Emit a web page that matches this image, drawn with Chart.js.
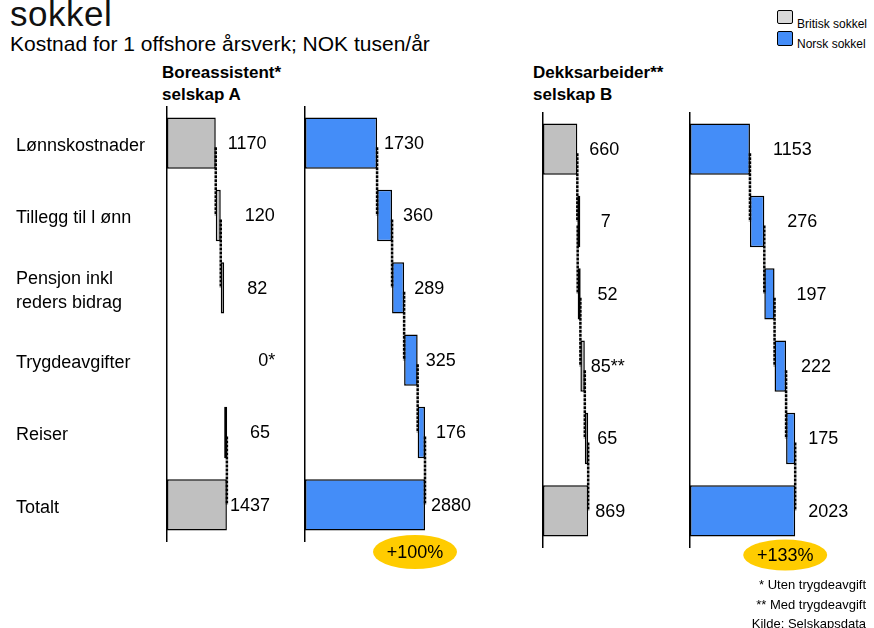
<!DOCTYPE html>
<html lang="no">
<head>
<meta charset="utf-8">
<title>Kostnad for 1 offshore årsverk</title>
<script src="https://cdn.jsdelivr.net/npm/chart.js@4.4.1/dist/chart.umd.min.js"></script>
<style>
  html, body { margin: 0; padding: 0; background: #fff; }
  body {
    width: 874px; height: 628px; position: relative; overflow: hidden;
    font-family: "Liberation Sans", Arial, sans-serif; color: #000;
  }
  .t { position: absolute; white-space: nowrap; }
  .box { position: absolute; border: 1.5px solid #000; border-radius: 2px; }
  canvas { position: absolute; }
</style>
</head>
<body>

<div class="t" style="left:10px; top:-4.5px; font-size:35px; line-height:36px; letter-spacing:0.5px; color:#111;">sokkel</div>
<div class="t" style="left:10px; top:33px; font-size:21px; line-height:21px;">Kostnad for 1 offshore årsverk; NOK tusen/år</div>

<div class="t" style="left:162px; top:62px; font-size:17px; line-height:22px; font-weight:bold;">Boreassistent*<br>selskap A</div>
<div class="t" style="left:533px; top:62px; font-size:17px; line-height:22px; font-weight:bold;">Dekksarbeider**<br>selskap B</div>

<div class="box" style="left:777px; top:10px; width:14px; height:12px; background:#d9d9d9;"></div>
<div class="t" style="left:797px; top:18px; font-size:12px; line-height:12px;">Britisk sokkel</div>
<div class="box" style="left:777px; top:31px; width:14px; height:13px; background:#448df8;"></div>
<div class="t" style="left:797px; top:38px; font-size:12px; line-height:12px;">Norsk sokkel</div>

<canvas id="britiskA" width="292" height="466" style="left:16px; top:91px;"></canvas>
<canvas id="norskA" width="205" height="500" style="left:295px; top:91px;"></canvas>
<canvas id="britiskB" width="155" height="466" style="left:533px; top:97px;"></canvas>
<canvas id="norskB" width="194" height="500" style="left:680px; top:97px;"></canvas>

<div class="t" style="right:8px; top:578px; font-size:13px; line-height:13px; text-align:right;">* Uten trygdeavgift</div>
<div class="t" style="right:8px; top:598px; font-size:13px; line-height:13px; text-align:right;">** Med trygdeavgift</div>
<div class="t" style="right:8px; top:617px; font-size:13px; line-height:13px; text-align:right;">Kilde: Selskapsdata</div>

<script>
// Cost categories (rows of the waterfall)
const categories = ['Lønnskostnader', 'Tillegg til l ønn', ['Pensjon inkl', 'reders bidrag'], 'Trygdeavgifter', 'Reiser', 'Totalt'];

// NOK thousand per year; the last entry of each list is the total
const britiskA = [1170, 120, 82, 0, 65, 1437];
const norskA   = [1730, 360, 289, 325, 176, 2880];
const britiskB = [660, 7, 52, 85, 65, 869];
const norskB   = [1153, 276, 197, 222, 175, 2023];

// Footnote marks printed after some values
const marksBritiskA = ['', '', '', '*', '', ''];
const marksBritiskB = ['', '', '', '**', '', ''];
const noMarks       = ['', '', '', '', '', ''];

const FONT = '"Liberation Sans", Arial, sans-serif';
const GREY = '#c0c0c0';
const BLUE = '#448df8';

Chart.defaults.font.family = FONT;
Chart.defaults.color = '#000';

// Floating [start, end] ranges for a waterfall; the last row starts at zero
function waterfall(values) {
  let run = 0;
  return values.map((v, i) => {
    if (i === values.length - 1) return [0, v];
    if (v === 0) return null;
    const seg = [run, run + v];
    run += v;
    return seg;
  });
}

function runningEnds(values) {
  let run = 0;
  return values.map((v, i) => {
    if (i === values.length - 1) return v;
    run += v;
    return run;
  });
}

// Step connectors, value labels and the change badge under the total
const waterfallMarks = {
  id: 'waterfallMarks',
  afterDatasetsDraw(chart, args, opts) {
    const { ctx, chartArea } = chart;
    const xs = chart.scales.x, ys = chart.scales.y;
    const values = opts.values;
    const ends = runningEnds(values);
    ctx.save();

    ctx.strokeStyle = '#000';
    ctx.lineWidth = 2.5;
    ctx.setLineDash([3, 1]);
    for (let i = 0; i < values.length - 1; i++) {
      if (values[i] === 0 || values[i + 1] === 0) continue;
      const x = xs.getPixelForValue(ends[i]);
      ctx.beginPath();
      ctx.moveTo(x, ys.getPixelForValue(i) + 4);
      ctx.lineTo(x, ys.getPixelForValue(i + 1));
      ctx.stroke();
    }
    ctx.setLineDash([]);

    ctx.font = '18px ' + FONT;
    ctx.fillStyle = '#000';
    ctx.textBaseline = 'middle';
    ctx.textAlign = 'left';
    values.forEach((v, i) => {
      const x = xs.getPixelForValue(ends[i]) + opts.labelGap[i];
      const y = ys.getPixelForValue(i) + 1;
      ctx.fillText(String(v) + opts.marks[i], x, y);
    });

    if (opts.baseTotal) {
      const total = values[values.length - 1];
      const pct = Math.round((total / opts.baseTotal - 1) * 100);
      const cx = xs.getPixelForValue(total) - 10;
      const cy = chartArea.bottom + opts.badgeDrop;
      ctx.beginPath();
      ctx.ellipse(cx, cy, 42, opts.badgeRy, 0, 0, Math.PI * 2);
      ctx.fillStyle = '#ffcc00';
      ctx.fill();
      ctx.fillStyle = '#000';
      ctx.textAlign = 'center';
      ctx.fillText('+' + pct + '%', cx, cy + 1);
    }
    ctx.restore();
  }
};

function makePanel(id, values, cfg) {
  const yTicks = cfg.showLabels
    ? { display: true, crossAlign: 'far', padding: 0, labelOffset: 3,
        font: { family: FONT, size: 18, lineHeight: 1.3 }, color: '#000' }
    : { display: false };
  return new Chart(document.getElementById(id), {
    type: 'bar',
    data: {
      labels: categories,
      datasets: [{
        data: waterfall(values),
        backgroundColor: cfg.color,
        borderColor: '#000',
        borderWidth: 1.5,
        borderSkipped: false,
        barPercentage: 0.71,
        categoryPercentage: 1,
        minBarLength: 3
      }]
    },
    options: {
      indexAxis: 'y',
      responsive: false,
      animation: false,
      devicePixelRatio: 1,
      layout: { padding: cfg.padding },
      plugins: {
        legend: { display: false },
        tooltip: { enabled: false },
        waterfallMarks: {
          values: values,
          marks: cfg.marks,
          labelGap: cfg.labelGap,
          baseTotal: cfg.baseTotal || null,
          badgeDrop: cfg.badgeDrop || 0,
          badgeRy: cfg.badgeRy || 0
        }
      },
      scales: {
        x: { type: 'linear', min: 0, max: cfg.max, display: false },
        y: {
          type: 'category',
          grid: { display: false, drawTicks: false },
          border: { display: true, color: '#000', width: 1.5 },
          ticks: yTicks,
          afterFit: s => { s.width = cfg.axisWidth; }
        }
      }
    },
    plugins: [waterfallMarks]
  });
}

makePanel('britiskA', britiskA, {
  color: GREY, max: 3000, showLabels: true, axisWidth: 151,
  padding: { left: 0, right: 16, top: 16, bottom: 16 },
  marks: marksBritiskA, labelGap: [12, 24, 23, 34, 23, 3]
});
makePanel('norskA', norskA, {
  color: BLUE, max: 3000, showLabels: false, axisWidth: 0,
  padding: { left: 10, right: 70, top: 16, bottom: 50 },
  marks: noMarks, labelGap: [7, 11, 10, 8, 11, 6],
  baseTotal: britiskA[britiskA.length - 1], badgeDrop: 11, badgeRy: 17
});
makePanel('britiskB', britiskB, {
  color: GREY, max: 2500, showLabels: false, axisWidth: 0,
  padding: { left: 10, right: 15, top: 16, bottom: 16 },
  marks: marksBritiskB, labelGap: [12, 23, 17, 6, 9, 7]
});
makePanel('norskB', norskB, {
  color: BLUE, max: 2500, showLabels: false, axisWidth: 0,
  padding: { left: 10, right: 54, top: 16, bottom: 50 },
  marks: noMarks, labelGap: [23, 23, 22, 15, 13, 13],
  baseTotal: britiskB[britiskB.length - 1], badgeDrop: 8, badgeRy: 15.5
});
</script>
</body>
</html>
